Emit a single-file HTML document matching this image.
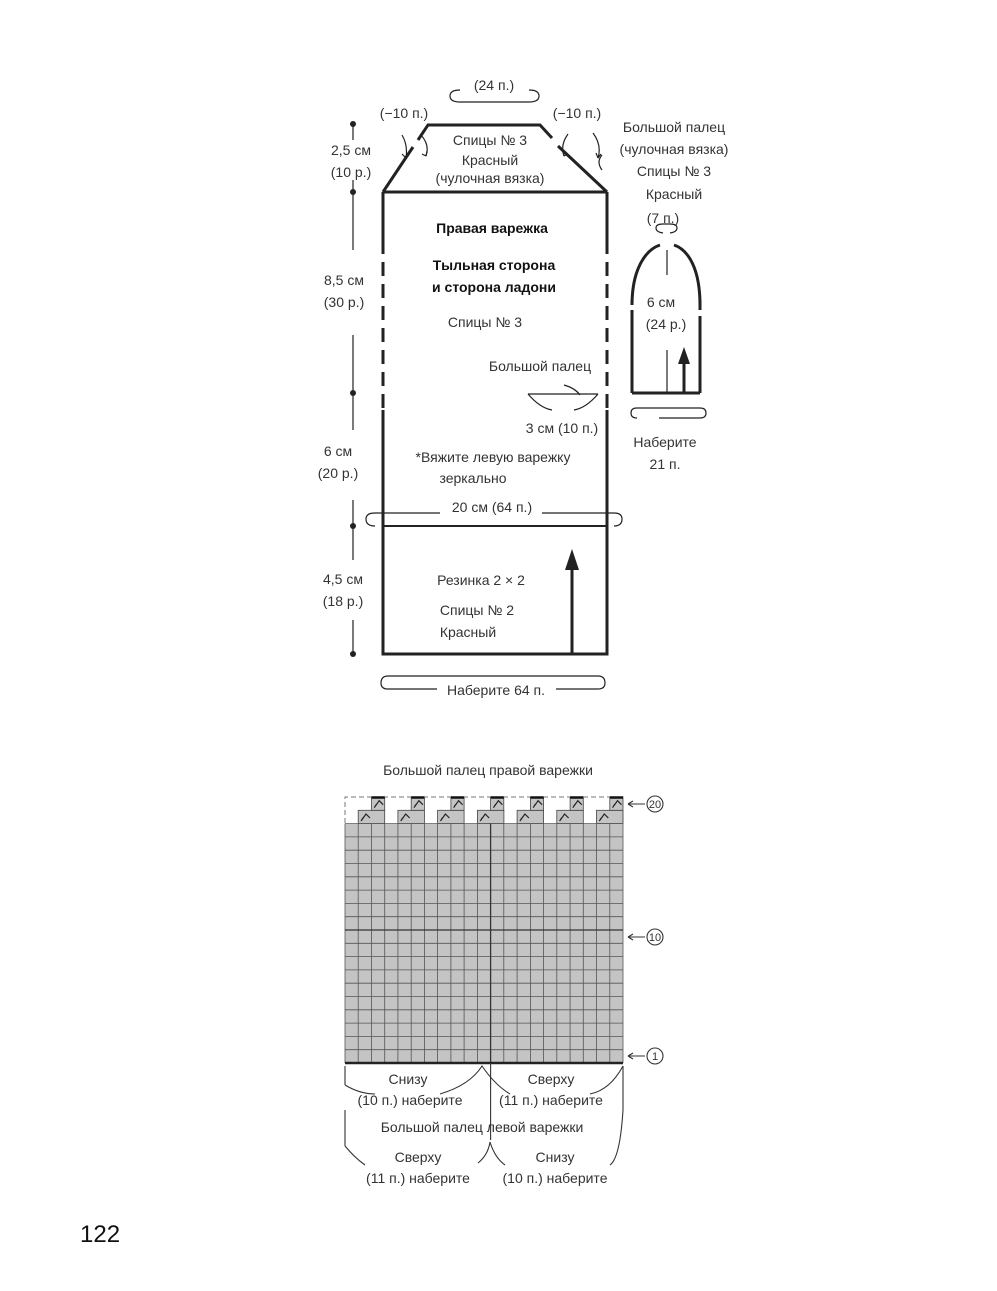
<!DOCTYPE html>
<html><head><meta charset="utf-8"><style>
body{margin:0;background:#fff}
svg{display:block}
text{font-family:"Liberation Sans",sans-serif;font-size:14px;fill:#333}
.b{font-weight:bold;fill:#111}
</style></head><body>
<svg width="997" height="1291" viewBox="0 0 997 1291" xmlns="http://www.w3.org/2000/svg">
<g stroke="#222" fill="none" stroke-width="3">
<path d="M383,192 L413,147 M418,140 L428,125 L540,125 L552,138 M558,146 L607,192"/>
<path d="M383,192 L607,192"/>
<path d="M383,192 V240 M607,192 V240" />
<path d="M383,240 V410 M607,240 V410" stroke-dasharray="14,8"/>
<path d="M383,410 V654 H607 V410"/>
<path d="M383,526 H607" stroke-width="2"/>
<path d="M632,393 H700" />
<path d="M632,393 V320 M700,393 V320" />
<path d="M632,320 V300 M700,300 V320" stroke-dasharray="10,6"/>
<path d="M632,305 C632,270 645,250 660,245 M674,245 C689,250 700,270 700,305"/>
<path d="M572,654 V568 M684,393 V360"/>
</g>
<g fill="#222">
<polygon points="572,549 565,570 579,570"/>
<polygon points="684,347 678,364 690,364"/>
</g>
<g stroke="#222" fill="none" stroke-width="1.2">
<path d="M667,250 V275 M667,350 V393"/>
<path d="M528,394 H598 M528,394 Q540,408 552,410 M598,394 Q586,408 574,410"/>
<path d="M564,385 Q575,388 580,395" />
<path d="M353,124 V140 M353,180 V250 M353,335 V393 M353,393 V430 M353,500 V526 M353,526 V560 M353,620 V654"/>
<path d="M440,513 H375 Q366,513 366,519 Q366,526 375,526 M542,513 H614 Q622,513 622,519 Q622,526 614,526"/>
<path d="M437,689 H388 Q381,689 381,683 Q381,676 388,676 H598 Q605,676 605,683 Q605,689 598,689 H556"/>
<path d="M460,90 Q450,90 450,96 Q450,102 460,102 H529 Q539,102 539,96 Q539,90 529,90"/>
<path d="M659,418 H700 Q706,418 706,413 Q706,408 700,408 H637 Q631,408 631,413 Q631,418 637,418"/>
<path d="M663,233 Q656,232 656,228 Q656,224 663,224 H670 Q677,224 677,228 Q677,232 670,233"/>
<path d="M402,135 Q408,145 406,158 M421,135 Q430,145 426,156 M568,134 Q560,145 564,156 M593,133 Q602,145 598,158 M602,155 Q596,162 602,170"/>
<path d="M406,158 l-4,-4 M406,158 l2,-5 M426,156 l-4,-2 M426,156 l1,-5 M564,156 l-1,-5 M564,156 l4,-2 M598,158 l-2,-5 M598,158 l3,-4"/>
</g>
<g fill="#222">
<circle cx="353" cy="124" r="3"/><circle cx="353" cy="192" r="3"/><circle cx="353" cy="393" r="3"/><circle cx="353" cy="526" r="3"/><circle cx="353" cy="654" r="3"/>
</g>
<g text-anchor="middle">
<text x="494" y="90">(24 п.)</text>
<text x="404" y="118">(−10 п.)</text>
<text x="577" y="118">(−10 п.)</text>
<text x="490" y="145">Спицы № 3</text>
<text x="490" y="165">Красный</text>
<text x="490" y="183">(чулочная вязка)</text>
<text x="674" y="132">Большой палец</text>
<text x="674" y="154">(чулочная вязка)</text>
<text x="674" y="176">Спицы № 3</text>
<text x="674" y="199">Красный</text>
<text x="663" y="223">(7 п.)</text>
<text x="661" y="307">6 см</text>
<text x="666" y="329">(24 р.)</text>
<text x="665" y="447">Наберите</text>
<text x="665" y="469">21 п.</text>
<text x="351" y="155">2,5 см</text>
<text x="351" y="177">(10 р.)</text>
<text x="344" y="285">8,5 см</text>
<text x="344" y="307">(30 р.)</text>
<text x="338" y="456">6 см</text>
<text x="338" y="478">(20 р.)</text>
<text x="343" y="584">4,5 см</text>
<text x="343" y="606">(18 р.)</text>
<text x="492" y="233" class="b">Правая варежка</text>
<text x="494" y="270" class="b">Тыльная сторона</text>
<text x="494" y="292" class="b">и сторона ладони</text>
<text x="485" y="327">Спицы № 3</text>
<text x="540" y="371">Большой палец</text>
<text x="562" y="433">3 см (10 п.)</text>
<text x="493" y="462">*Вяжите левую варежку</text>
<text x="473" y="483">зеркально</text>
<text x="492" y="512">20 см (64 п.)</text>
<text x="481" y="585">Резинка 2 × 2</text>
<text x="477" y="615">Спицы № 2</text>
<text x="468" y="637">Красный</text>
<text x="496" y="695">Наберите 64 п.</text>
<text x="488" y="775">Большой палец правой варежки</text>
<text x="408" y="1084">Снизу</text>
<text x="410" y="1105">(10 п.) наберите</text>
<text x="551" y="1084">Сверху</text>
<text x="551" y="1105">(11 п.) наберите</text>
<text x="482" y="1132">Большой палец левой варежки</text>
<text x="418" y="1162">Сверху</text>
<text x="418" y="1183">(11 п.) наберите</text>
<text x="555" y="1162">Снизу</text>
<text x="555" y="1183">(10 п.) наберите</text>
</g>
<text x="80" y="1242" style="font-size:24px;fill:#111">122</text>
<g id="chart">
<rect x="345" y="823.6" width="278" height="239.4" fill="#c4c4c4"/>
<g fill="#c4c4c4" stroke="#444" stroke-width="0.8">
<rect x="358.2" y="810.3" width="26.5" height="13.3"/><rect x="397.9" y="810.3" width="26.5" height="13.3"/><rect x="437.6" y="810.3" width="26.5" height="13.3"/><rect x="477.4" y="810.3" width="26.5" height="13.3"/><rect x="517.1" y="810.3" width="26.5" height="13.3"/><rect x="556.8" y="810.3" width="26.5" height="13.3"/><rect x="596.5" y="810.3" width="26.5" height="13.3"/>
<rect x="371.5" y="797" width="13.2" height="13.3"/><rect x="411.2" y="797" width="13.2" height="13.3"/><rect x="450.9" y="797" width="13.2" height="13.3"/><rect x="490.6" y="797" width="13.2" height="13.3"/><rect x="530.4" y="797" width="13.2" height="13.3"/><rect x="570.1" y="797" width="13.2" height="13.3"/><rect x="609.8" y="797" width="13.2" height="13.3"/>
</g>
<g stroke="#555" stroke-width="0.8">
<path d="M345,836.9H623M345,850.2H623M345,863.5H623M345,876.8H623M345,890.1H623M345,903.4H623M345,916.7H623M345,943.3H623M345,956.6H623M345,969.9H623M345,983.2H623M345,996.5H623M345,1009.8H623M345,1023.1H623M345,1036.4H623M345,1049.7H623"/>
<path d="M358.2,823.6V1063M371.5,823.6V1063M384.7,823.6V1063M397.9,823.6V1063M411.2,823.6V1063M424.4,823.6V1063M437.6,823.6V1063M450.9,823.6V1063M464.1,823.6V1063M477.4,823.6V1063M503.8,823.6V1063M517.1,823.6V1063M530.4,823.6V1063M543.6,823.6V1063M556.8,823.6V1063M570.1,823.6V1063M583.3,823.6V1063M596.5,823.6V1063M609.8,823.6V1063M623,810V1063M345,823.6V1063M345,823.6H623"/>
</g>
<path d="M345,930H623M490.6,823.6V1063" stroke="#333" stroke-width="1.3"/>
<path d="M345,1063H623" stroke="#222" stroke-width="2.5"/>
<path d="M345,823V797H623" fill="none" stroke="#777" stroke-width="1" stroke-dasharray="5,3"/>
<g stroke="#111" stroke-width="2.5"><path d="M371.5,797.5h13.2M411.2,797.5h13.2M450.9,797.5h13.2M490.6,797.5h13.2M530.4,797.5h13.2M570.1,797.5h13.2M609.8,797.5h13.2"/></g>
<g stroke="#222" stroke-width="1.2" fill="none">
<path id="k1" d="M361,821 L366,814 L370,818 M364,817 L362,819"/>
<use href="#k1" x="39.7"/><use href="#k1" x="79.4"/><use href="#k1" x="119.2"/><use href="#k1" x="158.9"/><use href="#k1" x="198.6"/><use href="#k1" x="238.3"/>
<use href="#k1" x="13.2" y="-13.3"/><use href="#k1" x="52.9" y="-13.3"/><use href="#k1" x="92.6" y="-13.3"/><use href="#k1" x="132.4" y="-13.3"/><use href="#k1" x="172.1" y="-13.3"/><use href="#k1" x="211.8" y="-13.3"/><use href="#k1" x="251.5" y="-13.3"/>
</g>
<g stroke="#333" stroke-width="1.1" fill="none">
<path d="M628,804H645M628,804l5,-3M628,804l5,3"/><circle cx="655" cy="804" r="8"/>
<path d="M628,937H645M628,937l5,-3M628,937l5,3"/><circle cx="655" cy="937" r="8"/>
<path d="M628,1056H645M628,1056l5,-3M628,1056l5,3"/><circle cx="655" cy="1056" r="8"/>
<path d="M345,1066V1085M345,1085Q360,1094 375,1094M440,1094Q470,1085 482,1066Q495,1085 510,1094M590,1094Q610,1090 623,1066"/>
<path d="M345,1110V1146M345,1146Q355,1158 365,1165M478,1163Q488,1155 490,1142Q495,1158 505,1165M610,1165Q620,1158 623,1110"/>
<path d="M490.6,1063V1140M623,1066V1110"/>
</g>
<g text-anchor="middle">
<text x="655" y="808" style="font-size:11px">20</text>
<text x="655" y="941" style="font-size:11px">10</text>
<text x="655" y="1060" style="font-size:11px">1</text>
</g>
</g>
</svg>
</body></html>
